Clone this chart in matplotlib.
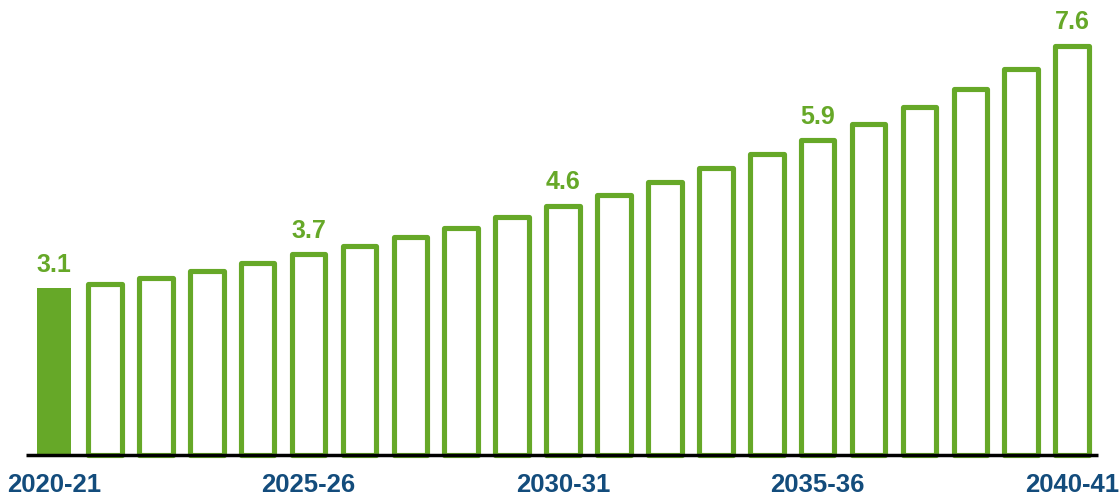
import matplotlib
matplotlib.use("Agg")
import matplotlib.pyplot as plt

years = ["2020-21", "2021-22", "2022-23", "2023-24", "2024-25", "2025-26", "2026-27",
         "2027-28", "2028-29", "2029-30", "2030-31", "2031-32", "2032-33", "2033-34",
         "2034-35", "2035-36", "2036-37", "2037-38", "2038-39", "2039-40", "2040-41"]
values = [3.1, 3.17, 3.29, 3.41, 3.57, 3.73, 3.88, 4.04, 4.22, 4.41, 4.63, 4.83,
          5.07, 5.32, 5.58, 5.85, 6.14, 6.45, 6.80, 7.16, 7.6]
label_idx = [0, 5, 10, 15, 20]
value_labels = ["3.1", "3.7", "4.6", "5.9", "7.6"]

GREEN = "#66A828"
BLUE = "#134C7C"

fig = plt.figure(figsize=(11.19, 4.95), dpi=100)
ax = fig.add_axes([0, 0, 1, 1])
ax.set_xlim(-1.061, 20.92)
ax.set_ylim(-0.742, 8.445)
ax.axis("off")

x = list(range(len(values)))
w = 0.66
# first bar filled
ax.bar(x[0], values[0], width=w, color=GREEN, edgecolor=GREEN, linewidth=0, zorder=2)
bars = ax.bar(x[1:], values[1:], width=w, facecolor="white", edgecolor=GREEN,
              linewidth=3.7, zorder=2)
for b in bars:
    b.set_joinstyle("round")

ax.plot([-0.55, 20.51], [0, 0], color="black", linewidth=2.5, zorder=3,
        solid_capstyle="butt")

for i, lab in zip(label_idx, value_labels):
    ax.text(x[i], values[i] + 0.30, lab, ha="center", va="baseline",
            fontsize=18, fontweight="bold", color=GREEN, family="Liberation Sans")
    ax.text(x[i], -0.687, years[i], ha="center", va="baseline",
            fontsize=18.5, fontweight="bold", color=BLUE, family="Liberation Sans")

fig.savefig("out.png", dpi=100)
